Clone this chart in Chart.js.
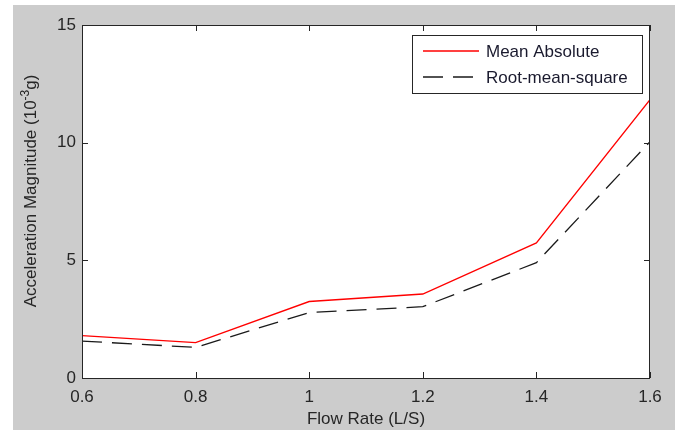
<!DOCTYPE html>
<html>
<head>
<meta charset="utf-8">
<script src="https://cdn.jsdelivr.net/npm/chart.js@4/dist/chart.umd.min.js"></script>
<style>
  html, body { margin: 0; padding: 0; background: #ffffff; }
  #wrap { width: 685px; height: 430px; }
</style>
</head>
<body>
<div id="wrap"><canvas id="flowChart" width="685" height="430"></canvas></div>
<script>
const flowRates = [0.6, 0.8, 1.0, 1.2, 1.4, 1.6];
const meanAbsolute = [1.8, 1.5, 3.25, 3.57, 5.74, 11.83];
const rootMeanSquare = [1.57, 1.3, 2.78, 3.03, 4.9, 10.04];
const xTicks = [0.6, 0.8, 1, 1.2, 1.4, 1.6];
const yTicks = [0, 5, 10, 15];

const FONT = "Liberation Sans, Arial, sans-serif";
const AXIS = "#262626";

// gray figure background like the matlab window
const figureBg = {
  id: "figureBg",
  beforeDraw(chart) {
    const c = chart.ctx;
    c.save();
    c.fillStyle = "#cccccc";
    c.fillRect(13, 5, 662, 425);
    const a = chart.chartArea;
    c.fillStyle = "#ffffff";
    c.fillRect(a.left, a.top, a.right - a.left, a.bottom - a.top);
    c.restore();
  }
};

// box, inward ticks, y title with superscript, legend
const matlabAxes = {
  id: "matlabAxes",
  afterDatasetsDraw(chart) {
    const c = chart.ctx;
    const a = chart.chartArea;
    const xs = chart.scales.x, ys = chart.scales.y;
    c.save();
    c.strokeStyle = AXIS;
    c.lineWidth = 1;
    c.strokeRect(a.left + 0.5, a.top + 0.5, a.right - a.left - 1, a.bottom - a.top);
    c.beginPath();
    xTicks.forEach(v => {
      const px = Math.round(xs.getPixelForValue(v)) + 0.5;
      c.moveTo(px, a.bottom); c.lineTo(px, a.bottom - 6);
      c.moveTo(px, a.top); c.lineTo(px, a.top + 6);
    });
    yTicks.forEach(v => {
      const py = Math.round(ys.getPixelForValue(v)) + 0.5;
      c.moveTo(a.left, py); c.lineTo(a.left + 6, py);
      c.moveTo(a.right, py); c.lineTo(a.right - 6, py);
    });
    c.stroke();

    // y axis title
    c.fillStyle = AXIS;
    c.translate(36, 191);
    c.rotate(-Math.PI / 2);
    const main = "Acceleration Magnitude (10";
    const sup = "-3";
    const tail = "g)";
    c.font = "17px " + FONT;
    const w1 = c.measureText(main).width;
    const w3 = c.measureText(tail).width;
    c.font = "12px " + FONT;
    const w2 = c.measureText(sup).width;
    let x0 = -(w1 + w2 + w3) / 2;
    c.textBaseline = "alphabetic";
    c.textAlign = "left";
    c.font = "17px " + FONT;
    c.fillText(main, x0, 0);
    c.font = "12px " + FONT;
    c.fillText(sup, x0 + w1, -7);
    c.font = "17px " + FONT;
    c.fillText(tail, x0 + w1 + w2, 0);
    c.setTransform(1, 0, 0, 1, 0, 0);

    // legend box
    const lx = 412, ly = 35, lw = 230, lh = 58;
    c.fillStyle = "#ffffff";
    c.fillRect(lx, ly, lw, lh);
    c.strokeStyle = AXIS;
    c.strokeRect(lx + 0.5, ly + 0.5, lw, lh);
    chart.data.datasets.forEach((ds, i) => {
      const y = ly + 16 + i * 26;
      c.beginPath();
      c.strokeStyle = ds.borderColor;
      c.lineWidth = 1.3;
      c.setLineDash(ds.borderDash || []);
      c.moveTo(423, y); c.lineTo(479, y);
      c.stroke();
      c.setLineDash([]);
      c.fillStyle = "#1a1a2e";
      c.font = "17px " + FONT;
      c.textBaseline = "middle";
      c.fillText(ds.label, 486, y + 1);
    });
    c.restore();
  }
};

const ctx = document.getElementById("flowChart").getContext("2d");

new Chart(ctx, {
  type: "line",
  data: {
    datasets: [
      {
        label: "Mean Absolute",
        data: flowRates.map((x, i) => ({ x: x, y: meanAbsolute[i] })),
        borderColor: "#ff0000",
        borderWidth: 1.3,
        pointRadius: 0,
        tension: 0,
        fill: false,
      },
      {
        label: "Root-mean-square",
        data: flowRates.map((x, i) => ({ x: x, y: rootMeanSquare[i] })),
        borderColor: "#1a1a1a",
        borderWidth: 1.3,
        borderDash: [20, 10],
        pointRadius: 0,
        tension: 0,
        fill: false,
      },
    ],
  },
  options: {
    responsive: false,
    animation: false,
    layout: { padding: { left: 0, right: 35, top: 25, bottom: 0 } },
    plugins: {
      legend: { display: false },
      title: { display: false },
      tooltip: { enabled: false },
    },
    scales: {
      x: {
        type: "linear",
        min: 0.6,
        max: 1.6,
        afterBuildTicks: (s) => { s.ticks = xTicks.map(v => ({ value: v })); },
        afterFit: (s) => { s.height = 52; },
        grid: { display: false, drawTicks: false },
        border: { display: false },
        ticks: {
          padding: 9,
          color: AXIS,
          font: { size: 17, family: FONT },
          callback: (v) => String(Number(v.toFixed(1))),
          maxRotation: 0,
        },
        title: {
          display: true,
          text: "Flow Rate (L/S)",
          color: AXIS,
          font: { size: 17, family: FONT },
          padding: { top: 2, bottom: 0 },
        },
      },
      y: {
        type: "linear",
        min: 0,
        max: 15,
        afterBuildTicks: (s) => { s.ticks = yTicks.map(v => ({ value: v })); },
        afterFit: (s) => { s.width = 82; },
        grid: { display: false, drawTicks: false },
        border: { display: false },
        ticks: {
          padding: 6,
          color: AXIS,
          font: { size: 17, family: FONT },
        },
      },
    },
  },
  plugins: [figureBg, matlabAxes],
});
</script>
</body>
</html>
